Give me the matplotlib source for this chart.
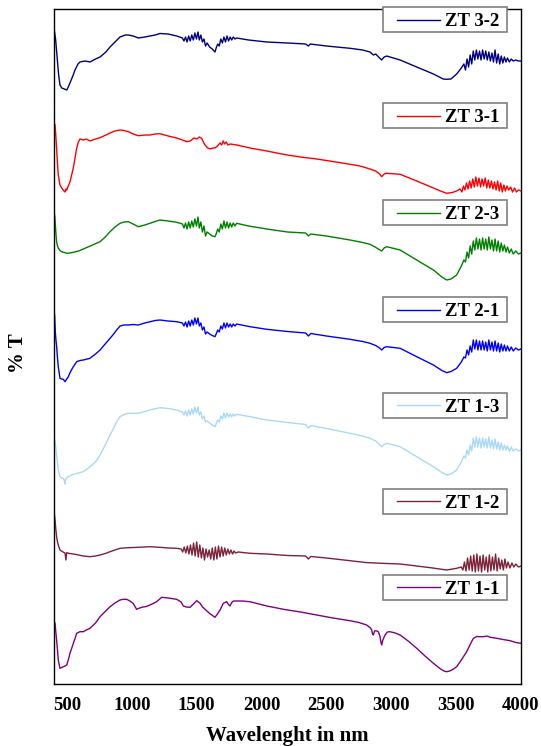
import matplotlib
matplotlib.use("Agg")
import matplotlib.pyplot as plt
from matplotlib.patches import Rectangle

# wavenumber, stacked %T (arbitrary offset units)
zt32 = [
    (400, 656), (412, 645), (422, 630), (435, 610), (446, 599), (460, 596), (480, 595), (498, 594),
    (510, 597), (523, 601), (545, 608), (562, 614), (585, 620), (600, 622), (640, 623), (677, 622),
    (720, 625), (755, 627), (800, 632), (832, 637), (870, 642), (909, 647), (950, 649), (973, 649),
    (1010, 648), (1050, 646), (1100, 647), (1140, 648), (1180, 649), (1217, 650.5), (1280, 650), (1346, 648),
    (1390, 646), (1402, 643), (1414, 647), (1426, 642), (1438, 648), (1450, 643), (1462, 649), (1474, 644),
    (1486, 651), (1498, 645), (1510, 652), (1520, 644), (1532, 649), (1544, 642), (1556, 645), (1568, 638),
    (1580, 641), (1600, 637), (1620, 635), (1641, 632), (1650, 636), (1662, 640), (1674, 638), (1686, 645),
    (1698, 641), (1710, 647), (1722, 642), (1734, 648), (1746, 643), (1758, 647), (1770, 644), (1782, 647),
    (1795, 645), (1808, 646), (1900, 644), (2040, 642), (2200, 641), (2340, 640), (2361, 638), (2375, 640),
    (2500, 638), (2682, 635.7), (2780, 634), (2836, 632), (2862, 629), (2880, 630), (2910, 626), (2926, 624),
    (2945, 627), (2965, 628), (3068, 624), (3196, 617), (3325, 610), (3400, 605), (3427, 604.7), (3460, 605),
    (3504, 610), (3540, 616), (3560, 620), (3572, 614), (3584, 625), (3596, 617), (3608, 629), (3620, 620),
    (3632, 633), (3644, 624), (3656, 634), (3668, 625), (3680, 633), (3692, 624), (3704, 634), (3716, 625),
    (3728, 633), (3740, 624), (3752, 632), (3764, 623), (3776, 631), (3788, 622), (3800, 634), (3812, 621),
    (3824, 630), (3836, 620), (3848, 628), (3860, 621), (3872, 627), (3884, 622), (3896, 626), (3910, 622),
    (3925, 625), (3940, 623), (3960, 624), (3980, 623), (4000, 623),
]

zt31 = [
    (400, 561), (408, 559), (414, 548), (420, 536), (427, 520), (433, 509), (446, 499), (459, 496),
    (470, 494), (485, 492), (492, 495), (498, 494), (510, 498), (523, 502), (536, 509), (549, 516),
    (562, 526), (575, 536), (588, 542), (600, 545), (626, 544), (650, 545), (677, 543), (720, 545),
    (755, 546.3), (800, 549), (832, 551), (870, 553), (909, 554), (940, 553.5), (973, 552.3), (1010, 550),
    (1050, 548.3), (1100, 549), (1140, 549), (1180, 550), (1217, 550.3), (1280, 548), (1346, 546), (1390, 544),
    (1423, 542.3), (1450, 543), (1480, 546), (1500, 545), (1520, 547), (1538, 545.7), (1555, 541), (1564, 539),
    (1585, 536), (1603, 535), (1625, 536), (1641, 536), (1660, 538), (1680, 541), (1692, 539), (1705, 543),
    (1715, 540), (1728, 542), (1740, 539), (1760, 540), (1808, 539), (1860, 537.5), (1911, 536), (2040, 533),
    (2168, 529.7), (2300, 527), (2425, 525), (2550, 522.5), (2682, 519.7), (2760, 518), (2836, 515), (2880, 513),
    (2910, 510), (2926, 507.3), (2945, 510), (2965, 510.7), (3068, 509.7), (3196, 503), (3325, 496), (3380, 493),
    (3427, 490.7), (3470, 491.5), (3504, 493), (3530, 495), (3545, 492), (3556, 498), (3568, 494), (3580, 501),
    (3592, 495), (3604, 503), (3616, 496), (3628, 505), (3640, 497), (3652, 507), (3664, 498), (3676, 506),
    (3688, 497), (3700, 505), (3712, 498), (3724, 506), (3736, 496), (3748, 504), (3760, 496), (3772, 503),
    (3784, 495), (3796, 502), (3808, 494), (3820, 503), (3832, 493), (3844, 501), (3856, 492), (3868, 499),
    (3880, 493), (3892, 498), (3905, 494), (3920, 497), (3935, 492), (3950, 496), (3965, 492), (3980, 494),
    (4000, 493),
]

zt23 = [
    (400, 472), (406, 468), (410, 460), (415, 450), (420, 442.3), (427, 438), (433, 436), (446, 433.5),
    (459, 432.3), (480, 431.5), (498, 430.7), (520, 431), (549, 431.7), (590, 433), (626, 435), (680, 438),
    (755, 442.3), (795, 447), (832, 452.3), (870, 457), (909, 460.7), (940, 462), (973, 462.3), (1010, 460),
    (1050, 457.3), (1100, 459), (1140, 460.7), (1180, 462.5), (1217, 464), (1280, 463), (1346, 461.7), (1390, 460),
    (1402, 456), (1414, 461), (1426, 455), (1438, 462), (1450, 456), (1462, 463), (1474, 457), (1486, 465),
    (1498, 458), (1510, 467), (1520, 456), (1532, 462), (1544, 452), (1556, 458), (1568, 448), (1580, 452),
    (1600, 450), (1620, 448), (1641, 447.3), (1650, 450), (1662, 455), (1674, 452), (1686, 460), (1698, 455),
    (1710, 463), (1722, 456), (1734, 462), (1746, 456), (1758, 461), (1770, 457), (1782, 461), (1795, 458),
    (1808, 460.7), (1900, 458), (2040, 455), (2200, 452), (2340, 451), (2361, 448), (2380, 450), (2500, 448),
    (2682, 444), (2780, 441.5), (2836, 439.7), (2875, 437), (2900, 435), (2926, 433), (2945, 436), (2965, 437.3),
    (3068, 434), (3196, 424), (3325, 414), (3390, 407), (3427, 404), (3460, 405), (3504, 409), (3540, 418),
    (3560, 424), (3572, 422), (3584, 432), (3596, 426), (3608, 438), (3620, 430), (3632, 443), (3644, 434),
    (3656, 446), (3668, 435), (3680, 445), (3692, 434), (3704, 446), (3716, 435), (3728, 445), (3740, 434),
    (3752, 447), (3764, 435), (3776, 444), (3788, 433), (3800, 445), (3812, 433), (3824, 443), (3836, 432),
    (3848, 441), (3860, 433), (3872, 439), (3884, 432), (3896, 437), (3910, 431), (3925, 435), (3940, 430),
    (3960, 433), (3980, 430), (4000, 431),
]

zt21 = [
    (400, 374), (405, 368), (410, 352), (415, 344), (420, 338), (427, 326), (433, 317.3), (446, 305.7),
    (459, 305), (472, 304.7), (485, 302.3), (498, 305), (510, 307.3), (530, 313), (549, 317.3), (575, 322.3),
    (600, 323.5), (626, 324), (677, 325.7), (720, 330), (755, 334), (795, 340), (832, 345.7), (860, 350),
    (883, 354), (909, 358), (940, 359), (973, 359), (1010, 359.5), (1050, 359), (1100, 361), (1140, 362.3),
    (1180, 363.5), (1217, 364), (1280, 363), (1346, 362.3), (1390, 361), (1402, 358), (1414, 362), (1426, 357),
    (1438, 363), (1450, 358), (1462, 364), (1474, 359), (1486, 366), (1498, 360), (1510, 366), (1520, 358),
    (1532, 361), (1544, 354), (1556, 357), (1568, 350), (1580, 352), (1600, 350), (1620, 348.5), (1641, 347.3),
    (1650, 350), (1662, 354), (1674, 352), (1686, 358), (1698, 355), (1710, 361), (1722, 356), (1734, 361),
    (1746, 357), (1758, 360), (1770, 357), (1782, 360), (1795, 358), (1808, 360), (1911, 357.3), (2040, 354.7),
    (2200, 352.5), (2340, 351), (2361, 348), (2380, 350.5), (2500, 348), (2682, 344.7), (2780, 342.5), (2836, 340.7),
    (2880, 338.5), (2910, 336), (2926, 334), (2945, 336.5), (2965, 337.3), (3068, 335.7), (3196, 327.3), (3325, 319),
    (3390, 313.5), (3427, 311.3), (3460, 312.5), (3504, 315.7), (3540, 322), (3560, 327), (3572, 326), (3584, 334),
    (3596, 329), (3608, 338), (3620, 332), (3632, 344), (3644, 335), (3656, 344), (3668, 334), (3680, 343),
    (3692, 334), (3704, 343), (3716, 334), (3728, 342), (3740, 333), (3752, 344), (3764, 334), (3776, 342),
    (3788, 333), (3800, 343), (3812, 333), (3824, 341), (3836, 332), (3848, 340), (3860, 333), (3872, 339),
    (3884, 333), (3896, 338), (3910, 333), (3925, 337), (3940, 333), (3960, 336), (3980, 334), (4000, 335),
]

zt13 = [
    (400, 246), (408, 242.3), (414, 236), (420, 229), (427, 221), (433, 214), (446, 207.3), (459, 206),
    (472, 205.7), (480, 203), (485, 200), (490, 205), (498, 206.3), (520, 208), (549, 209.7), (590, 211),
    (626, 212.3), (677, 217.3), (720, 222), (755, 229), (795, 239), (832, 249), (860, 256), (883, 262.3),
    (909, 267.3), (940, 269.5), (973, 270.7), (1010, 270.7), (1050, 270.7), (1100, 272.5), (1140, 274), (1180, 275.3),
    (1217, 276.3), (1280, 275.5), (1346, 274), (1390, 272), (1402, 269), (1414, 273), (1426, 268), (1438, 274),
    (1450, 269), (1462, 275), (1474, 270), (1486, 277), (1498, 271), (1510, 277), (1520, 269), (1532, 272),
    (1544, 265), (1556, 268), (1568, 262), (1580, 263), (1600, 261), (1620, 259), (1641, 257.3), (1650, 260),
    (1662, 264), (1674, 262), (1686, 268), (1698, 265), (1710, 271), (1722, 266), (1734, 271), (1746, 267),
    (1758, 270), (1770, 267), (1782, 270), (1795, 268), (1808, 269.7), (1911, 267.3), (2040, 264), (2200, 261.5),
    (2340, 259.5), (2361, 256), (2380, 258.5), (2500, 255.5), (2682, 250.7), (2780, 248), (2836, 245.7), (2880, 243),
    (2910, 239.5), (2926, 237.3), (2945, 239.5), (2965, 240.7), (3068, 237.3), (3196, 227.3), (3325, 217.3), (3390, 211.5),
    (3427, 209), (3460, 210), (3504, 214), (3540, 222), (3560, 228), (3572, 226), (3584, 234), (3596, 229),
    (3608, 239), (3620, 233), (3632, 246), (3644, 237), (3656, 247), (3668, 237), (3680, 246), (3692, 236),
    (3704, 246), (3716, 237), (3728, 245), (3740, 236), (3752, 247), (3764, 236), (3776, 244), (3788, 235),
    (3800, 245), (3812, 235), (3824, 242), (3836, 234), (3848, 241), (3860, 234), (3872, 239), (3884, 234),
    (3896, 238), (3910, 233), (3925, 237), (3940, 233), (3960, 235), (3980, 233), (4000, 234),
]

zt12 = [
    (400, 174), (404, 168), (408, 164), (414, 155), (420, 147.3), (427, 142), (433, 139), (446, 134),
    (470, 132), (485, 131), (492, 124), (498, 131.3), (520, 130.5), (549, 130), (590, 129), (626, 128),
    (677, 127.3), (720, 128), (755, 129), (795, 130.5), (832, 132.3), (870, 134), (909, 135.7), (973, 136.3),
    (1050, 136.7), (1140, 137.3), (1217, 136.7), (1280, 136), (1346, 135.7), (1380, 135), (1392, 132), (1404, 137),
    (1416, 131), (1428, 138), (1440, 130), (1452, 139), (1464, 129), (1476, 141), (1488, 128), (1500, 142),
    (1512, 127), (1524, 139), (1536, 126), (1548, 136), (1560, 124), (1572, 135), (1584, 127), (1596, 134),
    (1608, 125), (1620, 136), (1632, 124), (1644, 137), (1656, 125), (1668, 138), (1680, 127), (1692, 137),
    (1704, 128), (1716, 136), (1728, 129), (1740, 135), (1752, 130), (1764, 134), (1776, 130), (1788, 133),
    (1800, 131), (1820, 132), (1911, 130.7), (2040, 130), (2200, 128.5), (2340, 128), (2361, 125), (2380, 127.5),
    (2500, 126), (2682, 123.3), (2800, 121.5), (2926, 120.7), (3068, 120), (3196, 118), (3320, 116), (3427, 114),
    (3504, 115.7), (3540, 117), (3552, 114), (3564, 122), (3576, 113), (3588, 126), (3600, 114), (3612, 128),
    (3624, 113), (3636, 129), (3648, 112), (3660, 130), (3672, 113), (3684, 128), (3696, 112), (3708, 129),
    (3720, 114), (3732, 127), (3744, 112), (3756, 129), (3768, 113), (3780, 127), (3792, 114), (3804, 130),
    (3816, 113), (3828, 126), (3840, 115), (3852, 124), (3864, 114), (3876, 125), (3888, 116), (3900, 122),
    (3915, 116), (3930, 121), (3945, 117), (3960, 120), (3980, 117), (4000, 118),
]

zt11 = [
    (400, 63), (408, 60.7), (414, 52), (420, 44), (427, 34), (433, 24), (446, 15.7), (459, 16.5),
    (472, 17.3), (485, 18), (498, 19), (510, 24), (523, 30.7), (536, 35.5), (549, 40.7), (562, 45.5),
    (575, 50.7), (600, 52.3), (626, 52.3), (650, 54), (677, 55.7), (720, 61), (755, 67.3), (795, 72.5),
    (832, 77.3), (870, 81), (909, 84), (935, 84.7), (960, 84.7), (985, 83), (1010, 80.7), (1037, 74.7),
    (1050, 75.5), (1076, 76.7), (1110, 77.5), (1140, 79), (1165, 80.5), (1191, 82.3), (1230, 86.7), (1280, 86),
    (1346, 84.7), (1380, 82), (1397, 78), (1420, 77), (1449, 76.7), (1475, 80), (1500, 83.3), (1526, 80.7),
    (1545, 77), (1564, 74.7), (1600, 70.5), (1641, 66.7), (1660, 70), (1680, 74), (1705, 80.7), (1731, 82.3),
    (1745, 79.5), (1757, 78), (1770, 81.5), (1783, 83), (1850, 83), (1911, 82.3), (1980, 80), (2040, 78),
    (2100, 76.5), (2168, 74.7), (2300, 72), (2425, 69), (2550, 66), (2682, 63.3), (2750, 61.5), (2810, 59),
    (2840, 56), (2849, 54), (2856, 50), (2862, 49), (2868, 52), (2875, 53.3), (2890, 53), (2900, 52.3),
    (2912, 48), (2920, 42), (2926, 39), (2935, 44), (2952, 49), (2970, 52), (2990, 52.3), (3030, 51),
    (3068, 49), (3130, 43), (3196, 35.7), (3260, 28), (3325, 20.7), (3380, 15), (3410, 12.8), (3427, 12.3),
    (3450, 13), (3480, 15), (3504, 17.3), (3540, 24), (3581, 32.3), (3610, 40), (3633, 45.7), (3660, 47.5),
    (3684, 47.3), (3710, 47.3), (3740, 48), (3760, 46.8), (3813, 45.7), (3870, 44.3), (3916, 43.3), (3960, 41.5),
    (4000, 40.7),
]

labels = ["ZT 3-2", "ZT 3-1", "ZT 2-3", "ZT 2-1", "ZT 1-3", "ZT 1-2", "ZT 1-1"]
spectra = [zt32, zt31, zt23, zt21, zt13, zt12, zt11]
colors = ["#000080", "#ff0000", "#008000", "#0000ff", "#a9d9f7", "#7b2339", "#800080"]
# vertical centre of each label box, axes fraction
legend_y = [0.9844, 0.8415, 0.6985, 0.5548, 0.4126, 0.2704, 0.1430]
xticks = [500, 1000, 1500, 2000, 2500, 3000, 3500, 4000]

serif = ["Liberation Serif", "DejaVu Serif"]

fig = plt.figure(figsize=(5.41, 7.46), dpi=100)
ax = fig.add_axes([54 / 541, 1 - 684 / 746, 467 / 541, 675 / 746])

for pts, c in zip(spectra, colors):
    w = [p[0] for p in pts]
    t = [p[1] for p in pts]
    ax.plot(w, t, color=c, lw=1.0)

ax.set_xlim(400, 4000)
ax.set_ylim(0, 675)
ax.set_xticks(xticks)
ax.set_xticklabels([str(v) for v in xticks], fontfamily=serif, fontweight="bold", fontsize=13.5)
ax.set_yticks([])
ax.tick_params(axis="x", length=0, pad=9)
for s in ax.spines.values():
    s.set_linewidth(1.0)
    s.set_color("black")

ax.set_xlabel("Wavelenght in nm", fontfamily=serif, fontweight="bold", fontsize=15, labelpad=9)
ax.set_ylabel("% T", fontfamily=serif, fontweight="bold", fontsize=15)
ax.yaxis.set_label_coords(-0.056, 0.49)

# one small framed key per curve
box_x, box_w, box_h = 0.704, 0.267, 0.037
for lab, c, yc in zip(labels, colors, legend_y):
    ax.add_patch(Rectangle((box_x, yc - box_h / 2), box_w, box_h, transform=ax.transAxes,
                           facecolor="white", edgecolor="#808080", lw=1.2, zorder=5, clip_on=False))
    ax.plot([0.734, 0.826], [yc, yc], transform=ax.transAxes, color=c, lw=1.0, zorder=6, clip_on=False)
    ax.text(0.837, yc, lab, transform=ax.transAxes, ha="left", va="center_baseline",
            fontfamily=serif, fontweight="bold", fontsize=13.5, zorder=7)

fig.savefig("out.png", dpi=100)
